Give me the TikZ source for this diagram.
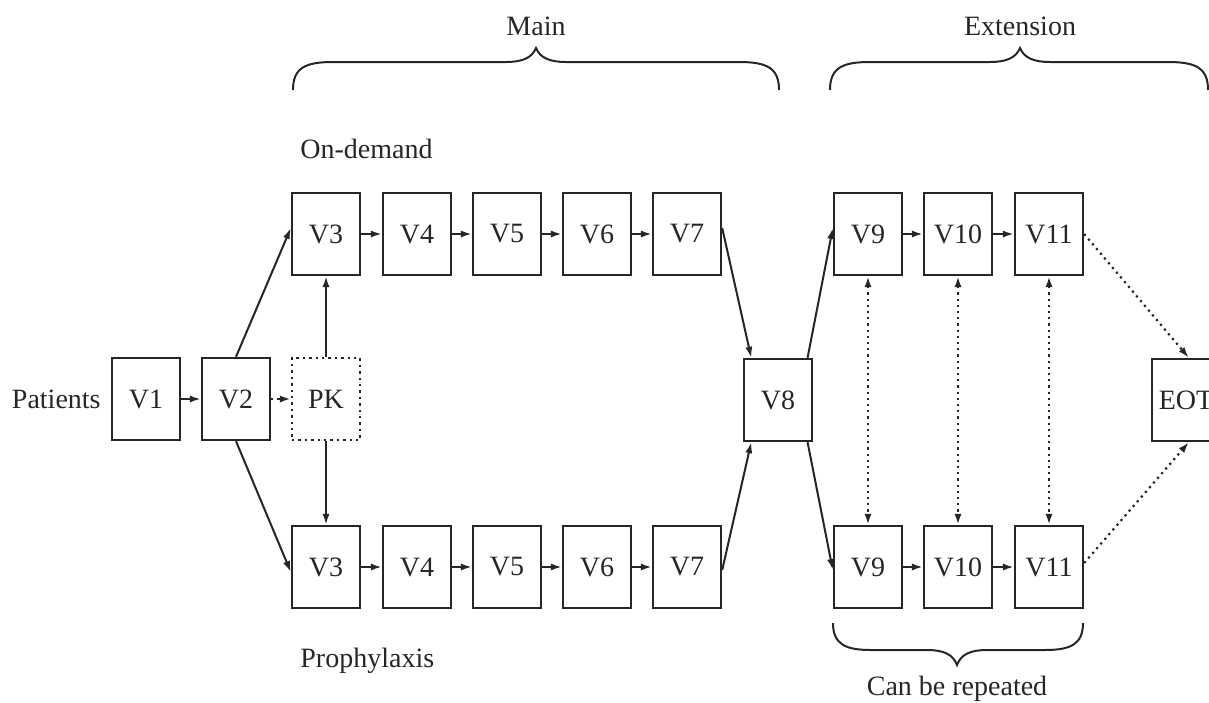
\documentclass[tikz,border=0pt]{standalone}
\usepackage{fontspec}
\setmainfont{Liberation Serif}
\usetikzlibrary{arrows.meta,calc}
\definecolor{ink}{HTML}{262626}
\begin{document}
\begin{tikzpicture}[x=0.5pt,y=-0.5pt,
  every node/.style={font=\fontsize{14pt}{16pt}\selectfont, text=ink},
  visit/.style={draw=ink, line width=1.2pt, minimum width=34pt, minimum height=41pt, inner sep=0pt},
  pkbox/.style={visit, dotted},
  label/.style={inner sep=0pt},
  flow/.style={draw=ink, line width=1pt, -{Latex[length=5.5pt,width=3.6pt]}},
  optflow/.style={flow, line width=1.1pt, dotted},
  bothflow/.style={draw=ink, line width=1.1pt, dotted, {Latex[length=5.5pt,width=3.6pt]}-{Latex[length=5.5pt,width=3.6pt]}},
  curly/.style={draw=ink, line width=1pt}
]
\useasboundingbox (0,0) rectangle (1209,702);

% screening and PK
\node[label, anchor=east] (pat) at (101,399) {Patients};
\node[visit] (V1) at (146,399) {V1};
\node[visit] (V2) at (236,399) {V2};
\node[pkbox] (PK) at (326,399) {PK};

% on-demand arm
\node[visit] (tV3) at (326,234) {V3};
\node[visit] (tV4) at (417,234) {V4};
\node[visit] (tV5) at (507,234) {V5};
\node[visit] (tV6) at (597,234) {V6};
\node[visit] (tV7) at (687,234) {V7};

% prophylaxis arm
\node[visit] (bV3) at (326,567) {V3};
\node[visit] (bV4) at (417,567) {V4};
\node[visit] (bV5) at (507,567) {V5};
\node[visit] (bV6) at (597,567) {V6};
\node[visit] (bV7) at (687,567) {V7};

\node[visit] (V8) at (778,400) {V8};

% extension
\node[visit] (tV9)  at (868,234) {V9};
\node[visit] (tV10) at (958,234) {V10};
\node[visit] (tV11) at (1049,234) {V11};
\node[visit] (bV9)  at (868,567) {V9};
\node[visit] (bV10) at (958,567) {V10};
\node[visit] (bV11) at (1049,567) {V11};
\node[visit] (EOT) at (1186,400) {EOT};

% arm labels
\node[label, anchor=base west] (od) at (300,158) {On-demand};
\node[label, anchor=base west] (pr) at (300,667) {Prophylaxis};

% connectors
\draw[flow] (V1) -- (V2);
\draw[optflow] (V2) -- (PK);
\draw[flow] (V2.north) -- ([yshift=3pt]tV3.west);
\draw[flow] (V2.south) -- ([yshift=-2.5pt]bV3.west);
\draw[flow] (PK.north) -- (tV3.south);
\draw[flow] (PK.south) -- (bV3.north);
\foreach \a/\b in {3/4,4/5,5/6,6/7,9/10,10/11}{
  \draw[flow] (tV\a) -- (tV\b);
  \draw[flow] (bV\a) -- (bV\b);
}
\draw[flow] ([yshift=3pt]tV7.east) -- ($(V8.north west)!0.12!(V8.north east)$);
\draw[flow] ([yshift=-1.5pt]bV7.east) -- ($(V8.south west)!0.12!(V8.south east)$);
\draw[flow] ($(V8.north west)!0.92!(V8.north east)$) -- ([yshift=3pt]tV9.west);
\draw[flow] ($(V8.south west)!0.92!(V8.south east)$) -- ([yshift=-1.5pt]bV9.west);
\foreach \n in {9,10,11}{
  \draw[bothflow] (tV\n.south) -- (bV\n.north);
}
\draw[optflow] (tV11.east) -- ([xshift=19pt]EOT.north west);
\draw[optflow] ([yshift=2pt]bV11.east) -- ([xshift=19pt]EOT.south west);

% phase braces
\coordinate (mL) at (293,90);
\coordinate (mR) at (779,90);
\draw[curly] (mL) .. controls (293,68) and (305,62) .. (333,62) -- (506,62)
  .. controls (522,62) and (532,58) .. (536,48) coordinate (mT)
  .. controls (540,58) and (550,62) .. (566,62) -- (739,62)
  .. controls (767,62) and (779,68) .. (mR);
\node[label, anchor=base] (main) at (536,35) {Main};

\coordinate (eL) at (830,90);
\coordinate (eR) at (1208,90);
\draw[curly] (eL) .. controls (830,68) and (842,62) .. (870,62) -- (990,62)
  .. controls (1006,62) and (1016,58) .. (1020,48) coordinate (eT)
  .. controls (1024,58) and (1034,62) .. (1050,62) -- (1168,62)
  .. controls (1196,62) and (1208,68) .. (eR);
\node[label, anchor=base] (ext) at (1020,35) {Extension};

\coordinate (rL) at (833,623);
\coordinate (rR) at (1083,623);
\draw[curly] (rL) .. controls (833,644) and (845,650) .. (871,650) -- (927,650)
  .. controls (943,650) and (953,654) .. (957,665) coordinate (rT)
  .. controls (961,654) and (971,650) .. (987,650) -- (1045,650)
  .. controls (1071,650) and (1083,644) .. (rR);
\node[label, anchor=base] (rep) at (957,695) {Can be repeated};
\end{tikzpicture}
\end{document}
